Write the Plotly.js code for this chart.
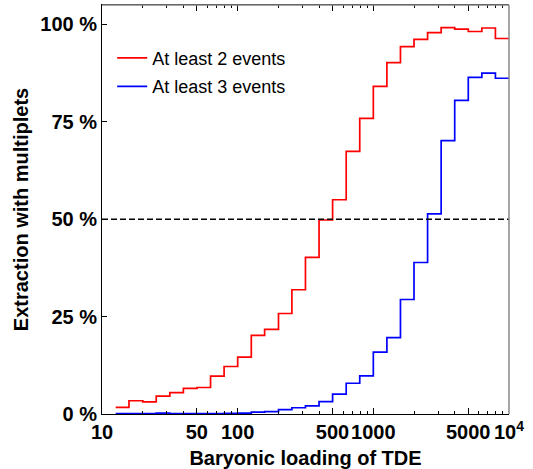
<!DOCTYPE html>
<html><head><meta charset="utf-8">
<script src="https://cdn.plot.ly/plotly-3.0.1.min.js"></script>
<style>html,body{margin:0;padding:0;background:#fff}</style>
</head><body>
<div id="chart" style="width:533px;height:469px"></div>
<script>
// Bin edges (log-spaced, 0.1 decade) of the baryonic loading histogram
const binEdges = [12.6, 15.8, 20.0, 25.1, 31.6, 39.8, 50.1, 63.1, 79.4, 100,
                  126, 158, 200, 251, 316, 398, 501, 631, 794, 1000,
                  1259, 1585, 1995, 2512, 3162, 3981, 5012, 6310, 7943, 10000];
// Extraction fraction (%) per bin
const atLeast2 = [1.7, 3.4, 3.1, 4.6, 5.5, 6.6, 6.8, 9.7, 12.2, 14.6,
                  20.2, 21.7, 25.8, 31.9, 40.2, 49.8, 55.0, 67.4, 75.9, 84.1,
                  90.2, 94.3, 96.2, 97.9, 99.2, 98.8, 98.2, 99.1, 96.4];
const atLeast3 = [0.1, 0.1, 0.1, 0.2, 0.1, 0.1, 0.1, 0.1, 0.15, 0.2,
                  0.5, 0.6, 1.1, 1.6, 2.1, 3.2, 5.1, 7.9, 9.8, 15.9,
                  19.6, 29.4, 38.9, 51.4, 70.2, 80.5, 86.4, 87.5, 86.2];
const seriesNames = ['At least 2 events', 'At least 3 events'];
const xTickVals = [10, 50, 100, 500, 1000, 5000, 10000];
const xTickText = ['10', '50', '100', '500', '1000', '5000', '10<sup>4</sup>'];
const xMinorVals = [20, 30, 40, 60, 70, 80, 90, 200, 300, 400, 600, 700, 800, 900,
                    2000, 3000, 4000, 6000, 7000, 8000, 9000];
const yTickVals = [0, 25, 50, 75, 100];
const yTickText = ['0 %', '25 %', '50 %', '75 %', '100 %'];
const threshold = 50;

function stepY(v) { return v.concat([v[v.length - 1]]); }

const FONT = 'Liberation Sans, Arial, sans-serif';

const traces = [
  {x: binEdges, y: stepY(atLeast2), name: seriesNames[0], type: 'scatter', mode: 'lines',
   line: {shape: 'hv', color: '#ff0000', width: 1.7}, legendgroup: 'a'},
  {x: binEdges, y: stepY(atLeast3), name: seriesNames[1], type: 'scatter', mode: 'lines',
   line: {shape: 'hv', color: '#0000ff', width: 1.7}, legendgroup: 'b'}
];

const layout = {
  width: 533, height: 469,
  margin: {l: 102, r: 24, t: 5, b: 55},
  paper_bgcolor: '#fff', plot_bgcolor: '#fff',
  font: {family: FONT, color: '#000'},
  showlegend: true,
  legend: {x: 0.025, y: 0.915, xanchor: 'left', yanchor: 'top',
           bgcolor: 'rgba(0,0,0,0)', font: {family: FONT, size: 18, color: '#000'},
           traceorder: 'grouped', tracegroupgap: 2},
  xaxis: {
    type: 'log', range: [0.9998, 4.0002],
    tickmode: 'array', tickvals: xTickVals, ticktext: xTickText, tickangle: 0,
    ticks: 'inside', ticklen: 6, tickwidth: 1, tickcolor: '#000',
    minor: {tickmode: 'array', tickvals: xMinorVals, ticks: 'inside', ticklen: 3, tickwidth: 1, tickcolor: '#000'},
    showline: true, linecolor: '#000', linewidth: 1, mirror: 'ticks',
    showgrid: false, zeroline: false,
    tickfont: {family: FONT, size: 20, color: '#000', weight: 'bold'},
    title: {text: 'Baryonic loading of TDE', font: {family: FONT, size: 20, color: '#000', weight: 'bold'}, standoff: 14}
  },
  yaxis: {
    range: [0, 105],
    tickmode: 'array', tickvals: yTickVals, ticktext: yTickText,
    ticks: 'inside', ticklen: 5, tickwidth: 1, tickcolor: '#000',
    showline: true, linecolor: '#000', linewidth: 1,
    showgrid: false, zeroline: false,
    tickfont: {family: FONT, size: 20, color: '#000', weight: 'bold'},
    title: {text: 'Extraction with multiplets', font: {family: FONT, size: 20, color: '#000', weight: 'bold'}, standoff: 6}
  },
  shapes: [
    {type: 'line', xref: 'paper', yref: 'y', x0: 0, x1: 1, y0: threshold, y1: threshold,
     line: {color: '#000', width: 1.4, dash: '6px,3px'}},
    {type: 'line', xref: 'paper', yref: 'paper', x0: 0, x1: 1, y0: 1, y1: 1,
     line: {color: '#888', width: 1.5}, layer: 'above'},
    {type: 'line', xref: 'paper', yref: 'paper', x0: 1, x1: 1, y0: 0, y1: 1,
     line: {color: '#888', width: 1.5}, layer: 'above'}
  ]
};

Plotly.newPlot('chart', traces, layout, {displayModeBar: false, staticPlot: true});
</script>
</body></html>
